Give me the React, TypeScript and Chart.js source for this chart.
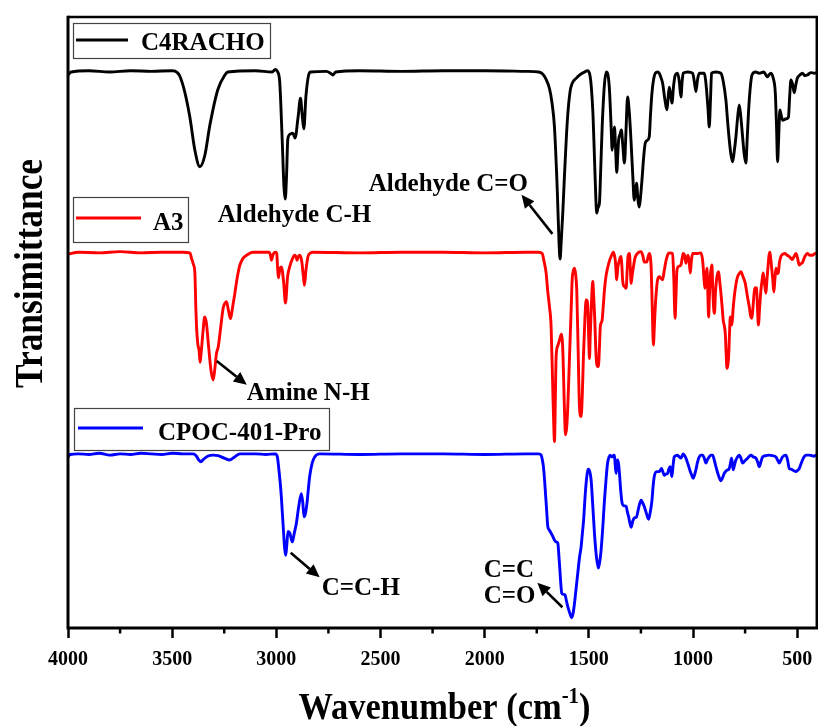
import React, { useEffect, useRef } from 'react';
import { Chart, registerables } from 'chart.js';

Chart.register(...registerables);

// ---------- data ----------
const SERIES_LABELS = ['C4RACHO', 'A3', 'CPOC-401-Pro'];
const SERIES_COLORS = ['#000000', '#FF0000', '#0000FF'];
const X_MAJOR_TICKS = [4000, 3500, 3000, 2500, 2000, 1500, 1000, 500];
const X_MINOR_TICKS = [3750, 3250, 2750, 2250, 1750, 1250, 750];

// [wavenumber (cm-1), offset transmittance (a.u.)]
const c4racho: [number, number][] = [
  [4000, 90.5], [3985, 91.0], [3900, 91.2], [3800, 91.0], [3700, 91.2], [3600, 91.1], [3500, 91.2], [3475, 90.9],
  [3463, 90.3], [3440, 87.8], [3415, 83.6], [3391, 78.2], [3367, 75.5], [3343, 77.4], [3319, 82.3], [3281, 88.1],
  [3247, 90.5], [3233, 91.0], [3100, 91.2], [3020, 91.0], [3005, 91.4], [2995, 91.1], [2984, 89.5], [2972, 80.0],
  [2963, 72.0], [2957, 70.2], [2951, 74.0], [2945, 80.0], [2935, 80.8], [2921, 81.0], [2910, 80.2], [2896, 83.5],
  [2884, 86.7], [2876, 84.0], [2868, 81.7], [2858, 87.0], [2845, 90.5], [2835, 91.0], [2760, 91.1], [2740, 90.8],
  [2729, 90.5], [2715, 91.0], [2600, 91.2], [2400, 91.1], [2200, 91.2], [2000, 91.2], [1800, 91.1], [1740, 91.0],
  [1723, 90.7], [1705, 89.8], [1689, 88.3], [1677, 86.0], [1665, 82.0], [1651, 71.2], [1643, 63.0], [1638, 60.4],
  [1633, 63.0], [1625, 68.0], [1617, 74.0], [1603, 83.1], [1590, 87.8], [1579, 89.2], [1560, 90.0], [1545, 90.5],
  [1520, 91.0], [1507, 91.2], [1495, 90.5], [1488, 88.5], [1480, 84.0], [1473, 77.0], [1466, 70.0], [1462, 67.9],
  [1456, 68.8], [1449, 69.6], [1443, 75.0], [1436, 82.0], [1425, 89.0], [1416, 91.0], [1408, 90.5], [1401, 88.1],
  [1393, 82.0], [1388, 78.2], [1382, 80.5], [1377, 82.0], [1371, 78.0], [1366, 74.6], [1361, 77.5], [1357, 79.9],
  [1350, 80.8], [1344, 81.5], [1337, 79.0], [1329, 76.1], [1322, 81.0], [1314, 86.9], [1306, 84.5], [1297, 79.4],
  [1289, 74.0], [1282, 70.0], [1276, 71.5], [1271, 72.8], [1264, 70.0], [1258, 68.9], [1252, 70.5], [1245, 73.3],
  [1237, 77.0], [1229, 79.4], [1220, 79.8], [1210, 80.4], [1204, 84.0], [1197, 87.6], [1189, 89.8], [1181, 90.8],
  [1170, 91.0], [1162, 90.8], [1155, 90.2], [1146, 89.2], [1135, 86.5], [1125, 84.8], [1120, 86.5], [1114, 88.5],
  [1107, 87.2], [1101, 85.9], [1093, 88.8], [1085, 90.5], [1074, 90.8], [1066, 89.5], [1058, 86.9], [1052, 89.5],
  [1047, 90.8], [1025, 91.0], [1002, 90.8], [994, 89.5], [986, 87.8], [978, 89.8], [970, 90.8], [946, 90.8],
  [940, 89.8], [935, 88.1], [928, 85.0], [922, 82.0], [916, 86.5], [911, 90.8], [890, 91.0], [866, 90.8],
  [855, 89.5], [842, 86.4], [834, 83.0], [826, 79.9], [818, 77.5], [810, 76.3], [802, 78.0], [794, 80.4],
  [786, 83.5], [778, 85.6], [770, 83.5], [762, 80.4], [754, 77.5], [746, 76.1], [740, 80.0], [733, 84.8],
  [725, 88.5], [717, 90.5], [700, 91.0], [682, 90.8], [660, 91.0], [650, 90.5], [642, 90.2], [634, 90.6],
  [626, 90.8], [615, 90.0], [605, 87.6], [599, 82.0], [594, 76.3], [589, 80.0], [583, 84.8], [577, 84.0],
  [570, 83.1], [556, 83.3], [542, 83.6], [536, 87.0], [530, 89.7], [522, 89.0], [514, 87.6], [506, 89.0],
  [499, 90.0], [487, 90.5], [475, 90.8], [463, 90.4], [451, 90.5], [435, 90.9], [418, 90.8], [400, 91.0],
];

const a3: [number, number][] = [
  [4000, 61.2], [3950, 61.5], [3850, 61.4], [3750, 61.6], [3650, 61.4], [3550, 61.5], [3450, 61.5], [3415, 61.4],
  [3407, 60.5], [3398, 59.5], [3391, 58.1], [3386, 52.0], [3383, 49.3], [3377, 46.5], [3371, 45.5], [3366, 43.5],
  [3361, 45.0], [3352, 48.5], [3344, 50.9], [3336, 50.0], [3325, 46.0], [3313, 42.0], [3303, 40.6], [3295, 42.5],
  [3287, 45.0], [3279, 46.0], [3266, 49.5], [3255, 52.4], [3246, 53.2], [3239, 53.4], [3230, 52.0], [3220, 50.6],
  [3210, 52.5], [3199, 54.8], [3187, 57.5], [3175, 59.4], [3160, 60.5], [3143, 61.0], [3113, 61.5], [3035, 61.5],
  [3028, 61.0], [3023, 60.2], [3017, 61.0], [3005, 61.5], [2998, 61.3], [2994, 59.0], [2990, 57.3], [2983, 58.8],
  [2976, 59.1], [2966, 57.0], [2956, 53.2], [2946, 57.5], [2936, 59.1], [2922, 60.5], [2912, 61.0], [2906, 60.8],
  [2901, 60.2], [2894, 60.8], [2888, 61.0], [2878, 60.0], [2870, 57.5], [2865, 56.1], [2858, 58.5], [2848, 60.8],
  [2835, 61.4], [2824, 61.5], [2600, 61.4], [2400, 61.5], [2200, 61.5], [2000, 61.4], [1800, 61.5], [1740, 61.5],
  [1724, 61.3], [1715, 60.0], [1705, 58.1], [1697, 55.0], [1689, 52.6], [1681, 49.3], [1673, 39.0], [1669, 34.0],
  [1665, 30.5], [1661, 37.0], [1657, 44.4], [1649, 46.2], [1641, 47.1], [1632, 48.1], [1625, 45.5], [1618, 37.0],
  [1612, 31.6], [1606, 33.0], [1601, 36.2], [1595, 42.0], [1590, 47.1], [1584, 53.0], [1580, 57.0], [1574, 58.5],
  [1569, 58.9], [1563, 57.8], [1558, 55.3], [1551, 45.0], [1545, 36.2], [1537, 34.6], [1531, 38.5], [1526, 44.4],
  [1519, 50.5], [1513, 53.7], [1509, 53.6], [1505, 52.6], [1501, 48.0], [1497, 44.1], [1493, 48.0], [1489, 51.6],
  [1485, 55.0], [1481, 56.7], [1477, 54.5], [1472, 50.9], [1465, 44.4], [1458, 42.8], [1454, 42.8], [1449, 46.0],
  [1445, 49.3], [1440, 50.0], [1436, 50.4], [1430, 53.0], [1425, 55.3], [1418, 57.5], [1410, 58.9], [1400, 60.2],
  [1393, 60.8], [1382, 61.5], [1376, 60.8], [1373, 60.2], [1366, 57.0], [1361, 59.0], [1357, 59.7], [1350, 60.6],
  [1345, 60.8], [1341, 59.0], [1338, 57.0], [1333, 56.0], [1329, 55.9], [1321, 55.6], [1316, 58.5], [1312, 60.8],
  [1305, 61.3], [1301, 59.0], [1297, 56.4], [1291, 58.0], [1286, 59.1], [1279, 60.5], [1273, 61.0], [1260, 61.5],
  [1249, 61.6], [1240, 60.8], [1234, 59.9], [1222, 59.9], [1215, 60.8], [1210, 61.3], [1205, 60.8], [1201, 59.1],
  [1196, 53.0], [1190, 46.3], [1186, 49.0], [1181, 52.6], [1175, 55.5], [1170, 57.0], [1160, 57.5], [1153, 57.2],
  [1146, 57.0], [1138, 58.5], [1129, 60.2], [1120, 61.2], [1114, 61.4], [1098, 61.3], [1092, 57.0], [1086, 50.7],
  [1082, 54.0], [1077, 58.6], [1068, 59.2], [1058, 59.4], [1052, 60.5], [1047, 61.3], [1040, 61.0], [1034, 59.7],
  [1029, 60.5], [1024, 61.0], [1019, 60.2], [1013, 58.1], [1008, 60.0], [1002, 61.3], [978, 61.3], [962, 61.4],
  [955, 60.5], [951, 59.1], [947, 57.0], [943, 55.6], [938, 57.5], [933, 58.9], [929, 55.0], [925, 50.9],
  [921, 54.5], [917, 57.5], [913, 58.8], [909, 59.4], [906, 56.5], [903, 53.7], [900, 52.0], [897, 51.5],
  [892, 55.0], [887, 57.0], [882, 58.0], [877, 58.3], [872, 56.8], [866, 54.8], [860, 52.5], [855, 50.4],
  [850, 49.5], [845, 48.2], [841, 45.0], [837, 42.5], [833, 43.0], [829, 44.4], [825, 48.0], [821, 50.9],
  [817, 50.0], [813, 49.6], [808, 52.0], [802, 54.2], [794, 56.2], [786, 57.5], [778, 58.0], [770, 58.3],
  [760, 57.5], [749, 56.4], [740, 54.5], [730, 52.6], [723, 51.0], [717, 50.7], [711, 53.0], [705, 55.3],
  [700, 55.7], [695, 55.6], [690, 52.0], [686, 49.6], [680, 52.5], [674, 55.3], [668, 57.0], [663, 58.1],
  [657, 56.5], [650, 54.8], [645, 57.0], [640, 59.1], [635, 61.0], [631, 61.5], [627, 60.5], [623, 59.1],
  [617, 57.0], [612, 55.0], [607, 57.0], [602, 58.9], [596, 58.0], [591, 58.1], [585, 59.8], [578, 60.8],
  [568, 61.2], [558, 61.3], [548, 61.0], [538, 60.8], [530, 60.5], [523, 60.3], [515, 60.8], [506, 61.3],
  [498, 60.5], [490, 59.4], [483, 59.6], [475, 59.8], [463, 60.8], [451, 61.3], [440, 61.0], [427, 61.0],
  [413, 61.3], [400, 61.3],
];

const cpoc401Pro: [number, number][] = [
  [4000, 28.0], [3990, 28.4], [3950, 28.5], [3900, 28.4], [3850, 28.6], [3800, 28.3], [3750, 28.5], [3700, 28.4],
  [3650, 28.6], [3600, 28.5], [3550, 28.4], [3500, 28.6], [3450, 28.5], [3400, 28.5], [3385, 28.2], [3372, 27.5],
  [3362, 27.2], [3350, 27.6], [3330, 28.1], [3303, 28.3], [3280, 28.2], [3250, 27.8], [3223, 27.5], [3200, 28.0],
  [3175, 28.5], [3100, 28.5], [3050, 28.4], [3005, 28.5], [2995, 28.0], [2988, 26.0], [2982, 24.0], [2976, 21.5],
  [2966, 16.0], [2960, 13.0], [2955, 11.9], [2950, 13.5], [2944, 15.8], [2935, 15.5], [2928, 14.5], [2923, 14.1],
  [2914, 15.5], [2904, 17.1], [2892, 20.0], [2880, 22.0], [2873, 20.5], [2867, 18.2], [2860, 18.8], [2853, 20.4],
  [2847, 22.5], [2840, 24.8], [2828, 27.0], [2816, 28.0], [2792, 28.5], [2600, 28.4], [2400, 28.5], [2200, 28.5],
  [2000, 28.4], [1800, 28.5], [1740, 28.5], [1729, 28.3], [1723, 27.5], [1718, 26.4], [1712, 24.0], [1708, 22.0],
  [1702, 19.0], [1697, 16.6], [1689, 16.0], [1681, 15.5], [1673, 15.0], [1665, 14.4], [1657, 14.1], [1649, 13.9],
  [1643, 11.5], [1638, 9.0], [1634, 7.0], [1630, 5.7], [1622, 5.5], [1614, 5.4], [1608, 4.5], [1601, 3.5],
  [1592, 2.5], [1582, 1.7], [1575, 2.5], [1569, 4.0], [1561, 6.5], [1553, 9.0], [1545, 11.5], [1537, 13.3],
  [1531, 15.5], [1525, 17.7], [1519, 21.0], [1513, 23.7], [1507, 25.5], [1502, 26.0], [1495, 25.5], [1489, 24.2],
  [1481, 20.0], [1473, 15.5], [1463, 11.5], [1454, 9.8], [1447, 11.0], [1441, 12.8], [1433, 16.5], [1425, 20.9],
  [1417, 24.5], [1410, 27.0], [1403, 28.0], [1397, 28.3], [1391, 28.0], [1386, 28.0], [1381, 28.3], [1377, 28.3],
  [1373, 26.5], [1369, 25.3], [1365, 27.0], [1362, 27.5], [1357, 26.8], [1353, 25.3], [1347, 22.5], [1340, 20.4],
  [1331, 20.0], [1321, 19.9], [1315, 19.0], [1309, 18.2], [1303, 17.2], [1297, 16.5], [1289, 17.5], [1282, 18.0],
  [1271, 18.2], [1260, 19.8], [1249, 20.9], [1242, 20.5], [1234, 19.9], [1224, 18.8], [1213, 17.8], [1205, 19.0],
  [1197, 20.9], [1192, 23.0], [1186, 24.8], [1175, 25.6], [1162, 25.6], [1151, 26.1], [1145, 25.6], [1138, 25.0],
  [1130, 25.2], [1122, 25.3], [1116, 26.0], [1110, 26.4], [1105, 25.5], [1101, 24.8], [1096, 26.5], [1090, 28.0],
  [1082, 28.2], [1074, 28.3], [1066, 28.0], [1058, 27.8], [1052, 28.2], [1047, 28.5], [1040, 28.2], [1034, 27.8],
  [1024, 26.8], [1013, 25.6], [1006, 25.0], [999, 24.5], [993, 25.0], [986, 25.9], [978, 27.2], [970, 28.0],
  [962, 28.3], [954, 28.3], [946, 27.8], [938, 27.0], [930, 27.6], [922, 28.0], [914, 28.3], [906, 28.3],
  [898, 27.5], [890, 26.4], [878, 25.0], [866, 24.1], [858, 24.6], [850, 25.3], [838, 25.8], [826, 26.1],
  [820, 27.0], [815, 27.8], [811, 27.0], [807, 25.9], [800, 26.8], [794, 27.5], [786, 28.0], [778, 28.3],
  [770, 27.8], [762, 27.0], [750, 27.4], [738, 27.8], [730, 28.1], [722, 28.3], [710, 28.0], [698, 27.8],
  [690, 27.2], [682, 26.4], [674, 27.2], [666, 28.0], [650, 28.2], [634, 28.3], [618, 28.2], [602, 28.0],
  [594, 27.5], [586, 27.0], [578, 27.5], [570, 28.0], [554, 28.3], [546, 27.5], [538, 26.1], [530, 26.0],
  [523, 25.9], [514, 25.7], [506, 25.6], [498, 25.8], [490, 26.1], [480, 27.0], [467, 28.0], [455, 28.3],
  [443, 28.3], [430, 28.2], [419, 28.1], [410, 28.3], [400, 28.3],
];

// peak labels, anchored at [wavenumber, transmittance] (left edge, baseline)
const PEAK_LABELS: { text: string; at: [number, number] }[] = [
  { text: 'Aldehyde C-H', at: [3281, 66.4] },
  { text: 'Aldehyde C=O', at: [2557, 71.5] },
  { text: 'Amine N-H', at: [3142, 37.3] },
  { text: 'C=C-H', at: [2782, 5.4] },
  { text: 'C=C', at: [2005, 8.3] },
  { text: 'C=O', at: [2005, 4.1] },
];
// arrows: tail -> head in [wavenumber, transmittance]
const PEAK_ARROWS: { from: [number, number]; to: [number, number] }[] = [
  { from: [1675, 64.5], to: [1823, 70.9] },
  { from: [3286, 43.7], to: [3142, 39.8] },
  { from: [2931, 12.3], to: [2792, 8.3] },
  { from: [1627, 3.4], to: [1747, 7.4] },
];

const SERIF = "'Liberation Serif', 'Times New Roman', Times, serif";

// legend box geometry (pixels)
const LEGEND_BOXES = [
  { x: 73, y: 23, w: 197, h: 35, lx1: 76, lx2: 128, ly: 40, tx: 141, ty: 50 },
  { x: 73, y: 197, w: 115, h: 45, lx1: 76, lx2: 141, ly: 218, tx: 153, ty: 230 },
  { x: 74, y: 408, w: 255, h: 42, lx1: 78, lx2: 143, ly: 428, tx: 158, ty: 440 },
];

const overlayPlugin = {
  id: 'overlay',
  afterDraw(chart: any) {
    const { ctx, chartArea: a, scales } = chart;
    const xs = scales.x;
    const ys = scales.y;
    const px = (p: [number, number]) => [xs.getPixelForValue(p[0]), ys.getPixelForValue(p[1])];
    ctx.save();

    // frame
    ctx.strokeStyle = '#000';
    ctx.lineCap = 'butt';
    ctx.lineWidth = 2.5;
    ctx.beginPath();
    ctx.moveTo(a.left, a.top);
    ctx.lineTo(a.right - 1.2, a.top);
    ctx.lineTo(a.right - 1.2, a.bottom);
    ctx.stroke();
    ctx.lineWidth = 3;
    ctx.beginPath();
    ctx.moveTo(a.left, a.top - 1.2);
    ctx.lineTo(a.left, a.bottom);
    ctx.lineTo(a.right, a.bottom);
    ctx.stroke();

    // minor ticks
    ctx.lineWidth = 2.5;
    X_MINOR_TICKS.forEach((v) => {
      const xp = xs.getPixelForValue(v);
      ctx.beginPath();
      ctx.moveTo(xp, a.bottom);
      ctx.lineTo(xp, a.bottom + 5.5);
      ctx.stroke();
    });

    // legends
    chart.data.datasets.forEach((ds: any, i: number) => {
      const b = LEGEND_BOXES[i];
      ctx.fillStyle = '#fff';
      ctx.fillRect(b.x, b.y, b.w, b.h);
      ctx.strokeStyle = '#444';
      ctx.lineWidth = 1.2;
      ctx.strokeRect(b.x + 0.5, b.y + 0.5, b.w, b.h);
      ctx.strokeStyle = ds.borderColor;
      ctx.lineWidth = 3;
      ctx.beginPath();
      ctx.moveTo(b.lx1, b.ly);
      ctx.lineTo(b.lx2, b.ly);
      ctx.stroke();
      ctx.fillStyle = '#000';
      ctx.font = `bold 25px ${SERIF}`;
      ctx.textAlign = 'left';
      ctx.textBaseline = 'alphabetic';
      ctx.fillText(ds.label, b.tx, b.ty);
    });

    // peak labels
    ctx.fillStyle = '#000';
    ctx.font = `bold 25px ${SERIF}`;
    ctx.textAlign = 'left';
    ctx.textBaseline = 'alphabetic';
    PEAK_LABELS.forEach((l) => {
      const [x, y] = px(l.at);
      ctx.fillText(l.text, x, y);
    });

    // arrows
    ctx.strokeStyle = '#000';
    ctx.fillStyle = '#000';
    ctx.lineWidth = 2.6;
    PEAK_ARROWS.forEach((ar) => {
      const [x1, y1] = px(ar.from);
      const [x2, y2] = px(ar.to);
      const ang = Math.atan2(y2 - y1, x2 - x1);
      const hl = 13;
      const hw = 6;
      const bx = x2 - hl * Math.cos(ang);
      const by = y2 - hl * Math.sin(ang);
      ctx.beginPath();
      ctx.moveTo(x1, y1);
      ctx.lineTo(bx, by);
      ctx.stroke();
      ctx.beginPath();
      ctx.moveTo(x2, y2);
      ctx.lineTo(bx + hw * Math.sin(ang), by - hw * Math.cos(ang));
      ctx.lineTo(bx - hw * Math.sin(ang), by + hw * Math.cos(ang));
      ctx.closePath();
      ctx.fill();
    });

    // y title
    ctx.save();
    ctx.font = `bold 40px ${SERIF}`;
    const yTitle = 'Transimittance';
    const yw = ctx.measureText(yTitle).width;
    ctx.translate(42, 273.5);
    ctx.rotate(-Math.PI / 2);
    ctx.scale(229 / yw, 1);
    ctx.textAlign = 'center';
    ctx.fillText(yTitle, 0, 0);
    ctx.restore();

    // x title with superscript
    ctx.save();
    const mainFont = `bold 38px ${SERIF}`;
    const supFont = `bold 23px ${SERIF}`;
    const p1 = 'Wavenumber (cm';
    const p2 = '-1';
    const p3 = ')';
    ctx.font = mainFont;
    const w1 = ctx.measureText(p1).width;
    const w3 = ctx.measureText(p3).width;
    ctx.font = supFont;
    const w2 = ctx.measureText(p2).width;
    const total = w1 + w2 + w3;
    const target = 292;
    const s = target / total;
    const cx = (a.left + a.right) / 2 + 1.5;
    ctx.translate(cx - target / 2, 719);
    ctx.scale(s, 1);
    ctx.textAlign = 'left';
    ctx.font = mainFont;
    ctx.fillText(p1, 0, 0);
    ctx.font = supFont;
    ctx.fillText(p2, w1, -16);
    ctx.font = mainFont;
    ctx.fillText(p3, w1 + w2, 0);
    ctx.restore();

    ctx.restore();
  },
};

const SERIES = [c4racho, a3, cpoc401Pro];

export default function App() {
  const ref = useRef<HTMLCanvasElement>(null);
  useEffect(() => {
    const canvas = ref.current;
    if (!canvas) return;
    const chart = new Chart(canvas, {
      type: 'line',
      data: {
        datasets: SERIES.map((s, i) => ({
          label: SERIES_LABELS[i],
          data: s.map(([x, y]) => ({ x, y })),
          borderColor: SERIES_COLORS[i],
          backgroundColor: SERIES_COLORS[i],
          borderWidth: 2.9,
          pointRadius: 0,
          fill: false,
          cubicInterpolationMode: 'monotone' as const,
        })),
      },
      options: {
        animation: false,
        responsive: false,
        maintainAspectRatio: false,
        layout: { autoPadding: false, padding: { left: 68, top: 17, right: 0, bottom: 0 } },
        plugins: {
          legend: { display: false },
          tooltip: { enabled: false },
          title: { display: false },
        },
        scales: {
          x: {
            type: 'linear',
            reverse: true,
            min: 400,
            max: 4000,
            afterBuildTicks: (scale: any) => {
              scale.ticks = X_MAJOR_TICKS.map((v) => ({ value: v }));
            },
            afterFit: (scale: any) => {
              scale.height = 98;
              scale.paddingLeft = 0;
              scale.paddingRight = 0;
            },
            grid: {
              display: true,
              drawOnChartArea: false,
              drawTicks: true,
              tickLength: 10,
              tickWidth: 2.5,
              tickColor: '#000',
            },
            border: { display: false },
            ticks: {
              autoSkip: false,
              maxRotation: 0,
              padding: 10,
              color: '#000',
              font: { family: SERIF, size: 20, weight: 'bold' },
              callback: (v: any) => String(v),
            },
          },
          y: { display: false, min: 0, max: 100 },
        },
      },
      plugins: [overlayPlugin],
    } as any);
    return () => chart.destroy();
  }, []);
  return (
    <div style={{ position: 'absolute', left: 0, top: 0, width: 818, height: 726, background: '#fff' }}>
      <canvas ref={ref} width={818} height={726} style={{ display: 'block' }} />
    </div>
  );
}
